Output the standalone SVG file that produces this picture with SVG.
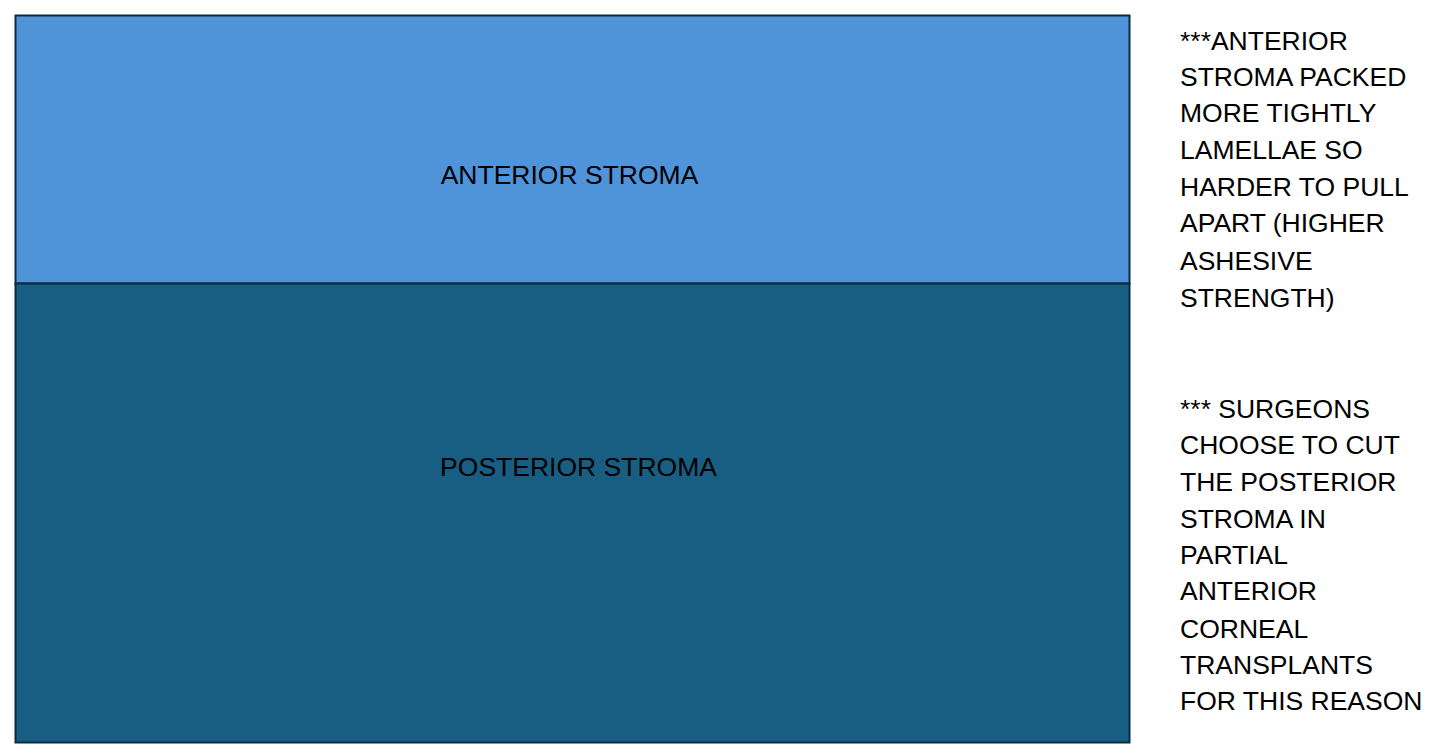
<svg xmlns="http://www.w3.org/2000/svg" width="1429" height="753" viewBox="0 0 1429 753">
<style>
.lbl{font-family:"Liberation Sans",Arial,sans-serif;font-size:26.5px;fill:#000}
.note{font-family:"Liberation Sans",Arial,sans-serif;font-size:26.5px;fill:#000}
.box{stroke:#0D2B40;stroke-width:2}
</style>
<rect width="1429" height="753" fill="#fff"/>
<g id="anterior">
<rect class="box" x="15.5" y="15.5" width="1114" height="268" fill="#4F93D8"/>
<text class="lbl" x="569.5" y="184" text-anchor="middle">ANTERIOR STROMA</text>
</g>
<g id="posterior">
<rect class="box" x="15.5" y="283.5" width="1114" height="459" fill="#175E82"/>
<text class="lbl" x="578.5" y="476" text-anchor="middle">POSTERIOR STROMA</text>
</g>
<g id="note1">
<text class="note" x="1180" y="50">***ANTERIOR</text>
<text class="note" x="1180" y="86">STROMA PACKED</text>
<text class="note" x="1180" y="122">MORE TIGHTLY</text>
<text class="note" x="1180" y="159">LAMELLAE SO</text>
<text class="note" x="1180" y="196">HARDER TO PULL</text>
<text class="note" x="1180" y="232">APART (HIGHER</text>
<text class="note" x="1180" y="270">ASHESIVE</text>
<text class="note" x="1180" y="307">STRENGTH)</text>
</g>
<g id="note2">
<text class="note" x="1180" y="418">*** SURGEONS</text>
<text class="note" x="1180" y="454">CHOOSE TO CUT</text>
<text class="note" x="1180" y="491">THE POSTERIOR</text>
<text class="note" x="1180" y="528">STROMA IN</text>
<text class="note" x="1180" y="564">PARTIAL</text>
<text class="note" x="1180" y="600">ANTERIOR</text>
<text class="note" x="1180" y="638">CORNEAL</text>
<text class="note" x="1180" y="674">TRANSPLANTS</text>
<text class="note" x="1180" y="710">FOR THIS REASON</text>
</g>
</svg>
